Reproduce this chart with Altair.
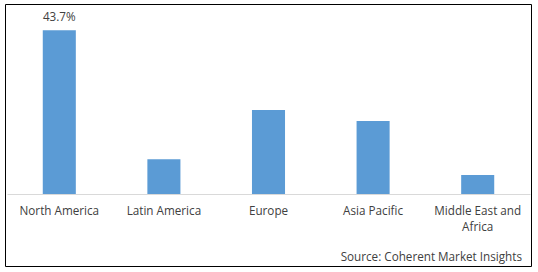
import altair as alt
import pandas as pd

regions = ["North America", "Latin America", "Europe", "Asia Pacific", "Middle East and Africa"]
shares = [43.7, 9.3, 22.4, 19.5, 5.1]
shown_labels = ["43.7%", "", "", "", ""]
source_text = "Source: Coherent Market Insights"

df = pd.DataFrame({"Region": regions, "Share": shares, "Label": shown_labels})

FONT = "Open Sans"
FS = 11.7
TXT = "#404040"

x = alt.X(
    "Region:N",
    sort=regions,
    scale=alt.Scale(paddingInner=0.684, paddingOuter=0.342),
    axis=alt.Axis(
        title=None,
        labelAngle=0,
        ticks=False,
        domainColor="#D9D9D9",
        domainWidth=1,
        labelFont=FONT,
        labelFontSize=FS,
        labelColor=TXT,
        labelPadding=11,
        labelLineHeight=16,
        labelLimit=200,
        labelExpr="datum.value == 'Middle East and Africa' ? ['Middle East and', 'Africa'] : datum.value",
    ),
)
y = alt.Y(
    "Share:Q",
    scale=alt.Scale(domain=[0, 48], nice=False),
    axis=None,
)

base = alt.Chart(df)
bars = base.mark_bar(color="#5B9BD5").encode(x=x, y=y)
labels = base.mark_text(
    font=FONT, fontSize=FS, color=TXT, baseline="alphabetic", dy=-9
).encode(x=x, y=y, text="Label:N")

source = alt.Chart(pd.DataFrame({"t": [source_text]})).mark_text(
    font=FONT, fontSize=FS, color=TXT, align="right", baseline="middle"
).encode(x=alt.value(515), y=alt.value(243), text="t:N")

frame = alt.Chart(pd.DataFrame({"t": [0]})).mark_rect(
    fill=None, stroke="#000000", strokeWidth=1
).encode(x=alt.value(-1.5), x2=alt.value(524.5), y=alt.value(-9.5), y2=alt.value(252.5))

chart = alt.layer(bars, labels, source, frame).properties(
    width=523,
    height=180,
    padding={"left": 7, "top": 14, "right": 8, "bottom": 78},
    autosize=alt.AutoSizeParams(type="none"),
    background="white",
).configure_view(stroke=None)

chart.save("out.html", embed_options={"renderer": "svg", "actions": False})
